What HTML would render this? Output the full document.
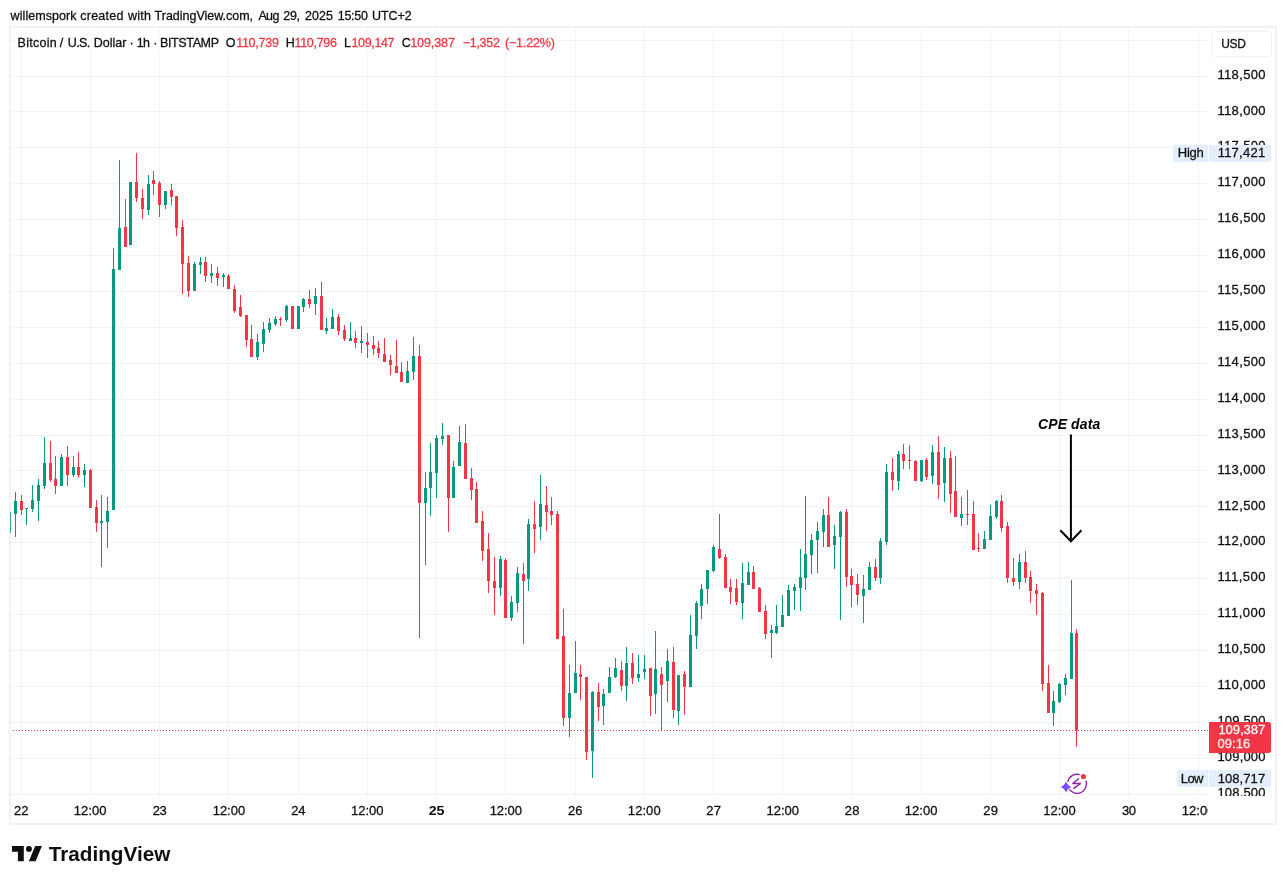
<!DOCTYPE html>
<html lang="en"><head><meta charset="utf-8"><title>BTCUSD chart</title>
<style>
html,body{margin:0;padding:0;background:#fff;}
body{width:1286px;height:884px;overflow:hidden;}
svg{display:block;}
text{font-family:"Liberation Sans",sans-serif;fill:#0f0f0f;white-space:pre;}
.ce{shape-rendering:crispEdges;}
</style></head><body>
<svg width="1286" height="884" viewBox="0 0 1286 884">
<rect x="0" y="0" width="1286" height="884" fill="#fff"/>
<g class="ce" fill="#2a2e39" fill-opacity="0.06">
<rect x="21" y="28" width="1" height="768"/>
<rect x="90" y="28" width="1" height="768"/>
<rect x="159" y="28" width="1" height="768"/>
<rect x="228" y="28" width="1" height="768"/>
<rect x="298" y="28" width="1" height="768"/>
<rect x="367" y="28" width="1" height="768"/>
<rect x="436" y="28" width="1" height="768"/>
<rect x="505" y="28" width="1" height="768"/>
<rect x="575" y="28" width="1" height="768"/>
<rect x="644" y="28" width="1" height="768"/>
<rect x="713" y="28" width="1" height="768"/>
<rect x="782" y="28" width="1" height="768"/>
<rect x="851" y="28" width="1" height="768"/>
<rect x="921" y="28" width="1" height="768"/>
<rect x="990" y="28" width="1" height="768"/>
<rect x="1059" y="28" width="1" height="768"/>
<rect x="1128" y="28" width="1" height="768"/>
<rect x="1198" y="28" width="1" height="768"/>
<rect x="11" y="40" width="1197" height="1"/>
<rect x="11" y="76" width="1197" height="1"/>
<rect x="11" y="111" width="1197" height="1"/>
<rect x="11" y="147" width="1197" height="1"/>
<rect x="11" y="183" width="1197" height="1"/>
<rect x="11" y="219" width="1197" height="1"/>
<rect x="11" y="255" width="1197" height="1"/>
<rect x="11" y="291" width="1197" height="1"/>
<rect x="11" y="327" width="1197" height="1"/>
<rect x="11" y="363" width="1197" height="1"/>
<rect x="11" y="399" width="1197" height="1"/>
<rect x="11" y="435" width="1197" height="1"/>
<rect x="11" y="470" width="1197" height="1"/>
<rect x="11" y="506" width="1197" height="1"/>
<rect x="11" y="542" width="1197" height="1"/>
<rect x="11" y="578" width="1197" height="1"/>
<rect x="11" y="614" width="1197" height="1"/>
<rect x="11" y="650" width="1197" height="1"/>
<rect x="11" y="686" width="1197" height="1"/>
<rect x="11" y="722" width="1197" height="1"/>
<rect x="11" y="758" width="1197" height="1"/>
<rect x="11" y="794" width="1197" height="1"/>
</g>
<rect x="16" y="33" width="543" height="19" fill="#fff" opacity="0.55"/>
<g class="ce">
<rect x="15" y="492" width="1" height="45" fill="#089981"/>
<rect x="14" y="501" width="3" height="13" fill="#089981"/>
<rect x="21" y="495" width="1" height="20" fill="#f23645"/>
<rect x="20" y="501" width="3" height="9" fill="#f23645"/>
<rect x="26" y="508" width="1" height="17" fill="#089981"/>
<rect x="25" y="508" width="3" height="1" fill="#089981"/>
<rect x="32" y="485" width="1" height="27" fill="#089981"/>
<rect x="31" y="500" width="3" height="9" fill="#089981"/>
<rect x="38" y="479" width="1" height="42" fill="#089981"/>
<rect x="37" y="485" width="3" height="16" fill="#089981"/>
<rect x="44" y="437" width="1" height="52" fill="#089981"/>
<rect x="43" y="463" width="3" height="23" fill="#089981"/>
<rect x="50" y="441" width="1" height="41" fill="#f23645"/>
<rect x="49" y="463" width="3" height="17" fill="#f23645"/>
<rect x="55" y="456" width="1" height="38" fill="#f23645"/>
<rect x="54" y="479" width="3" height="7" fill="#f23645"/>
<rect x="61" y="454" width="1" height="32" fill="#089981"/>
<rect x="60" y="457" width="3" height="29" fill="#089981"/>
<rect x="67" y="446" width="1" height="40" fill="#f23645"/>
<rect x="66" y="457" width="3" height="18" fill="#f23645"/>
<rect x="73" y="456" width="1" height="21" fill="#089981"/>
<rect x="72" y="467" width="3" height="8" fill="#089981"/>
<rect x="78" y="452" width="1" height="26" fill="#f23645"/>
<rect x="77" y="467" width="3" height="8" fill="#f23645"/>
<rect x="84" y="464" width="1" height="23" fill="#089981"/>
<rect x="83" y="470" width="3" height="5" fill="#089981"/>
<rect x="90" y="469" width="1" height="39" fill="#f23645"/>
<rect x="89" y="470" width="3" height="38" fill="#f23645"/>
<rect x="96" y="500" width="1" height="32" fill="#f23645"/>
<rect x="95" y="507" width="3" height="16" fill="#f23645"/>
<rect x="101" y="495" width="1" height="72" fill="#089981"/>
<rect x="100" y="521" width="3" height="2" fill="#089981"/>
<rect x="107" y="497" width="1" height="51" fill="#089981"/>
<rect x="106" y="511" width="3" height="11" fill="#089981"/>
<rect x="113" y="248" width="1" height="262" fill="#089981"/>
<rect x="112" y="269" width="3" height="241" fill="#089981"/>
<rect x="119" y="160" width="1" height="110" fill="#089981"/>
<rect x="118" y="228" width="3" height="42" fill="#089981"/>
<rect x="125" y="199" width="1" height="48" fill="#f23645"/>
<rect x="124" y="227" width="3" height="20" fill="#f23645"/>
<rect x="130" y="182" width="1" height="63" fill="#089981"/>
<rect x="129" y="182" width="3" height="63" fill="#089981"/>
<rect x="136" y="153" width="1" height="49" fill="#f23645"/>
<rect x="135" y="182" width="3" height="16" fill="#f23645"/>
<rect x="142" y="189" width="1" height="30" fill="#f23645"/>
<rect x="141" y="198" width="3" height="11" fill="#f23645"/>
<rect x="148" y="175" width="1" height="40" fill="#089981"/>
<rect x="147" y="184" width="3" height="26" fill="#089981"/>
<rect x="153" y="171" width="1" height="24" fill="#f23645"/>
<rect x="152" y="180" width="3" height="4" fill="#f23645"/>
<rect x="159" y="181" width="1" height="36" fill="#f23645"/>
<rect x="158" y="183" width="3" height="22" fill="#f23645"/>
<rect x="165" y="191" width="1" height="18" fill="#089981"/>
<rect x="164" y="191" width="3" height="14" fill="#089981"/>
<rect x="171" y="184" width="1" height="21" fill="#f23645"/>
<rect x="170" y="190" width="3" height="7" fill="#f23645"/>
<rect x="176" y="196" width="1" height="40" fill="#f23645"/>
<rect x="175" y="196" width="3" height="32" fill="#f23645"/>
<rect x="182" y="220" width="1" height="74" fill="#f23645"/>
<rect x="181" y="227" width="3" height="37" fill="#f23645"/>
<rect x="188" y="256" width="1" height="41" fill="#f23645"/>
<rect x="187" y="263" width="3" height="28" fill="#f23645"/>
<rect x="194" y="262" width="1" height="29" fill="#089981"/>
<rect x="193" y="264" width="3" height="27" fill="#089981"/>
<rect x="200" y="257" width="1" height="17" fill="#089981"/>
<rect x="199" y="262" width="3" height="3" fill="#089981"/>
<rect x="205" y="257" width="1" height="25" fill="#f23645"/>
<rect x="204" y="262" width="3" height="14" fill="#f23645"/>
<rect x="211" y="264" width="1" height="19" fill="#089981"/>
<rect x="210" y="273" width="3" height="3" fill="#089981"/>
<rect x="217" y="267" width="1" height="19" fill="#f23645"/>
<rect x="216" y="273" width="3" height="5" fill="#f23645"/>
<rect x="223" y="273" width="1" height="14" fill="#089981"/>
<rect x="222" y="275" width="3" height="2" fill="#089981"/>
<rect x="228" y="274" width="1" height="15" fill="#f23645"/>
<rect x="227" y="276" width="3" height="13" fill="#f23645"/>
<rect x="234" y="285" width="1" height="28" fill="#f23645"/>
<rect x="233" y="289" width="3" height="22" fill="#f23645"/>
<rect x="240" y="295" width="1" height="22" fill="#f23645"/>
<rect x="239" y="307" width="3" height="9" fill="#f23645"/>
<rect x="246" y="315" width="1" height="32" fill="#f23645"/>
<rect x="245" y="315" width="3" height="25" fill="#f23645"/>
<rect x="251" y="325" width="1" height="32" fill="#f23645"/>
<rect x="250" y="339" width="3" height="18" fill="#f23645"/>
<rect x="257" y="334" width="1" height="26" fill="#089981"/>
<rect x="256" y="342" width="3" height="15" fill="#089981"/>
<rect x="263" y="322" width="1" height="30" fill="#089981"/>
<rect x="262" y="329" width="3" height="15" fill="#089981"/>
<rect x="269" y="318" width="1" height="15" fill="#089981"/>
<rect x="268" y="323" width="3" height="7" fill="#089981"/>
<rect x="275" y="316" width="1" height="10" fill="#089981"/>
<rect x="274" y="319" width="3" height="5" fill="#089981"/>
<rect x="280" y="317" width="1" height="9" fill="#f23645"/>
<rect x="279" y="319" width="3" height="1" fill="#f23645"/>
<rect x="286" y="305" width="1" height="17" fill="#089981"/>
<rect x="285" y="306" width="3" height="14" fill="#089981"/>
<rect x="292" y="306" width="1" height="23" fill="#f23645"/>
<rect x="291" y="306" width="3" height="23" fill="#f23645"/>
<rect x="298" y="306" width="1" height="23" fill="#089981"/>
<rect x="297" y="306" width="3" height="23" fill="#089981"/>
<rect x="303" y="298" width="1" height="14" fill="#089981"/>
<rect x="302" y="299" width="3" height="8" fill="#089981"/>
<rect x="309" y="290" width="1" height="18" fill="#f23645"/>
<rect x="308" y="299" width="3" height="5" fill="#f23645"/>
<rect x="315" y="288" width="1" height="27" fill="#089981"/>
<rect x="314" y="296" width="3" height="8" fill="#089981"/>
<rect x="321" y="282" width="1" height="48" fill="#f23645"/>
<rect x="320" y="296" width="3" height="34" fill="#f23645"/>
<rect x="326" y="318" width="1" height="16" fill="#089981"/>
<rect x="325" y="328" width="3" height="3" fill="#089981"/>
<rect x="332" y="309" width="1" height="20" fill="#089981"/>
<rect x="331" y="317" width="3" height="12" fill="#089981"/>
<rect x="338" y="314" width="1" height="21" fill="#f23645"/>
<rect x="337" y="317" width="3" height="14" fill="#f23645"/>
<rect x="344" y="325" width="1" height="16" fill="#f23645"/>
<rect x="343" y="330" width="3" height="9" fill="#f23645"/>
<rect x="350" y="322" width="1" height="19" fill="#089981"/>
<rect x="349" y="338" width="3" height="3" fill="#089981"/>
<rect x="355" y="331" width="1" height="17" fill="#f23645"/>
<rect x="354" y="338" width="3" height="5" fill="#f23645"/>
<rect x="361" y="326" width="1" height="27" fill="#089981"/>
<rect x="360" y="341" width="3" height="2" fill="#089981"/>
<rect x="367" y="333" width="1" height="25" fill="#f23645"/>
<rect x="366" y="342" width="3" height="3" fill="#f23645"/>
<rect x="373" y="336" width="1" height="19" fill="#f23645"/>
<rect x="372" y="345" width="3" height="4" fill="#f23645"/>
<rect x="378" y="341" width="1" height="17" fill="#f23645"/>
<rect x="377" y="348" width="3" height="5" fill="#f23645"/>
<rect x="384" y="338" width="1" height="24" fill="#f23645"/>
<rect x="383" y="354" width="3" height="8" fill="#f23645"/>
<rect x="390" y="355" width="1" height="20" fill="#f23645"/>
<rect x="389" y="360" width="3" height="5" fill="#f23645"/>
<rect x="396" y="340" width="1" height="33" fill="#f23645"/>
<rect x="395" y="366" width="3" height="7" fill="#f23645"/>
<rect x="401" y="362" width="1" height="20" fill="#f23645"/>
<rect x="400" y="372" width="3" height="10" fill="#f23645"/>
<rect x="407" y="361" width="1" height="22" fill="#089981"/>
<rect x="406" y="371" width="3" height="12" fill="#089981"/>
<rect x="413" y="337" width="1" height="43" fill="#089981"/>
<rect x="412" y="356" width="3" height="16" fill="#089981"/>
<rect x="419" y="345" width="1" height="293" fill="#f23645"/>
<rect x="418" y="356" width="3" height="147" fill="#f23645"/>
<rect x="425" y="472" width="1" height="93" fill="#089981"/>
<rect x="424" y="488" width="3" height="15" fill="#089981"/>
<rect x="430" y="443" width="1" height="73" fill="#089981"/>
<rect x="429" y="472" width="3" height="16" fill="#089981"/>
<rect x="436" y="435" width="1" height="63" fill="#089981"/>
<rect x="435" y="438" width="3" height="35" fill="#089981"/>
<rect x="442" y="423" width="1" height="22" fill="#089981"/>
<rect x="441" y="436" width="3" height="3" fill="#089981"/>
<rect x="448" y="435" width="1" height="97" fill="#f23645"/>
<rect x="447" y="435" width="3" height="63" fill="#f23645"/>
<rect x="453" y="461" width="1" height="37" fill="#089981"/>
<rect x="452" y="467" width="3" height="31" fill="#089981"/>
<rect x="459" y="426" width="1" height="40" fill="#089981"/>
<rect x="458" y="442" width="3" height="24" fill="#089981"/>
<rect x="465" y="424" width="1" height="55" fill="#f23645"/>
<rect x="464" y="443" width="3" height="36" fill="#f23645"/>
<rect x="471" y="468" width="1" height="32" fill="#f23645"/>
<rect x="470" y="478" width="3" height="12" fill="#f23645"/>
<rect x="476" y="482" width="1" height="41" fill="#f23645"/>
<rect x="475" y="489" width="3" height="34" fill="#f23645"/>
<rect x="482" y="511" width="1" height="50" fill="#f23645"/>
<rect x="481" y="521" width="3" height="30" fill="#f23645"/>
<rect x="488" y="533" width="1" height="60" fill="#f23645"/>
<rect x="487" y="549" width="3" height="32" fill="#f23645"/>
<rect x="494" y="557" width="1" height="58" fill="#f23645"/>
<rect x="493" y="581" width="3" height="7" fill="#f23645"/>
<rect x="500" y="556" width="1" height="40" fill="#089981"/>
<rect x="499" y="559" width="3" height="29" fill="#089981"/>
<rect x="505" y="558" width="1" height="60" fill="#f23645"/>
<rect x="504" y="560" width="3" height="58" fill="#f23645"/>
<rect x="511" y="596" width="1" height="25" fill="#089981"/>
<rect x="510" y="602" width="3" height="16" fill="#089981"/>
<rect x="517" y="567" width="1" height="45" fill="#089981"/>
<rect x="516" y="573" width="3" height="30" fill="#089981"/>
<rect x="523" y="563" width="1" height="81" fill="#f23645"/>
<rect x="522" y="574" width="3" height="7" fill="#f23645"/>
<rect x="528" y="519" width="1" height="72" fill="#089981"/>
<rect x="527" y="524" width="3" height="55" fill="#089981"/>
<rect x="534" y="501" width="1" height="52" fill="#f23645"/>
<rect x="533" y="524" width="3" height="5" fill="#f23645"/>
<rect x="540" y="475" width="1" height="65" fill="#089981"/>
<rect x="539" y="504" width="3" height="23" fill="#089981"/>
<rect x="546" y="486" width="1" height="45" fill="#f23645"/>
<rect x="545" y="505" width="3" height="7" fill="#f23645"/>
<rect x="551" y="497" width="1" height="28" fill="#f23645"/>
<rect x="550" y="511" width="3" height="4" fill="#f23645"/>
<rect x="557" y="511" width="1" height="128" fill="#f23645"/>
<rect x="556" y="514" width="3" height="125" fill="#f23645"/>
<rect x="563" y="609" width="1" height="117" fill="#f23645"/>
<rect x="562" y="636" width="3" height="82" fill="#f23645"/>
<rect x="569" y="665" width="1" height="72" fill="#089981"/>
<rect x="568" y="693" width="3" height="25" fill="#089981"/>
<rect x="575" y="641" width="1" height="52" fill="#089981"/>
<rect x="574" y="673" width="3" height="20" fill="#089981"/>
<rect x="580" y="665" width="1" height="35" fill="#f23645"/>
<rect x="579" y="674" width="3" height="3" fill="#f23645"/>
<rect x="586" y="677" width="1" height="83" fill="#f23645"/>
<rect x="585" y="677" width="3" height="75" fill="#f23645"/>
<rect x="592" y="691" width="1" height="87" fill="#089981"/>
<rect x="591" y="692" width="3" height="59" fill="#089981"/>
<rect x="598" y="683" width="1" height="38" fill="#f23645"/>
<rect x="597" y="692" width="3" height="15" fill="#f23645"/>
<rect x="603" y="689" width="1" height="36" fill="#089981"/>
<rect x="602" y="694" width="3" height="12" fill="#089981"/>
<rect x="609" y="667" width="1" height="26" fill="#089981"/>
<rect x="608" y="677" width="3" height="16" fill="#089981"/>
<rect x="615" y="658" width="1" height="20" fill="#089981"/>
<rect x="614" y="668" width="3" height="9" fill="#089981"/>
<rect x="621" y="661" width="1" height="30" fill="#f23645"/>
<rect x="620" y="670" width="3" height="16" fill="#f23645"/>
<rect x="626" y="647" width="1" height="54" fill="#089981"/>
<rect x="625" y="663" width="3" height="23" fill="#089981"/>
<rect x="632" y="653" width="1" height="31" fill="#f23645"/>
<rect x="631" y="663" width="3" height="15" fill="#f23645"/>
<rect x="638" y="655" width="1" height="27" fill="#089981"/>
<rect x="637" y="674" width="3" height="4" fill="#089981"/>
<rect x="644" y="655" width="1" height="24" fill="#089981"/>
<rect x="643" y="669" width="3" height="3" fill="#089981"/>
<rect x="650" y="668" width="1" height="48" fill="#f23645"/>
<rect x="649" y="668" width="3" height="28" fill="#f23645"/>
<rect x="655" y="631" width="1" height="83" fill="#089981"/>
<rect x="654" y="669" width="3" height="25" fill="#089981"/>
<rect x="661" y="667" width="1" height="64" fill="#f23645"/>
<rect x="660" y="674" width="3" height="11" fill="#f23645"/>
<rect x="667" y="649" width="1" height="53" fill="#089981"/>
<rect x="666" y="661" width="3" height="20" fill="#089981"/>
<rect x="673" y="647" width="1" height="71" fill="#f23645"/>
<rect x="672" y="662" width="3" height="48" fill="#f23645"/>
<rect x="678" y="675" width="1" height="50" fill="#089981"/>
<rect x="677" y="675" width="3" height="36" fill="#089981"/>
<rect x="684" y="671" width="1" height="44" fill="#f23645"/>
<rect x="683" y="674" width="3" height="13" fill="#f23645"/>
<rect x="690" y="615" width="1" height="72" fill="#089981"/>
<rect x="689" y="635" width="3" height="52" fill="#089981"/>
<rect x="696" y="601" width="1" height="48" fill="#089981"/>
<rect x="695" y="603" width="3" height="33" fill="#089981"/>
<rect x="701" y="584" width="1" height="35" fill="#089981"/>
<rect x="700" y="589" width="3" height="17" fill="#089981"/>
<rect x="707" y="570" width="1" height="34" fill="#089981"/>
<rect x="706" y="570" width="3" height="19" fill="#089981"/>
<rect x="713" y="545" width="1" height="27" fill="#089981"/>
<rect x="712" y="547" width="3" height="24" fill="#089981"/>
<rect x="719" y="514" width="1" height="45" fill="#f23645"/>
<rect x="718" y="549" width="3" height="9" fill="#f23645"/>
<rect x="725" y="554" width="1" height="34" fill="#f23645"/>
<rect x="724" y="557" width="3" height="31" fill="#f23645"/>
<rect x="730" y="579" width="1" height="25" fill="#f23645"/>
<rect x="729" y="587" width="3" height="5" fill="#f23645"/>
<rect x="736" y="579" width="1" height="26" fill="#f23645"/>
<rect x="735" y="588" width="3" height="14" fill="#f23645"/>
<rect x="742" y="563" width="1" height="56" fill="#089981"/>
<rect x="741" y="583" width="3" height="20" fill="#089981"/>
<rect x="748" y="562" width="1" height="23" fill="#089981"/>
<rect x="747" y="572" width="3" height="13" fill="#089981"/>
<rect x="753" y="566" width="1" height="23" fill="#f23645"/>
<rect x="752" y="572" width="3" height="17" fill="#f23645"/>
<rect x="759" y="587" width="1" height="25" fill="#f23645"/>
<rect x="758" y="588" width="3" height="24" fill="#f23645"/>
<rect x="765" y="605" width="1" height="34" fill="#f23645"/>
<rect x="764" y="611" width="3" height="23" fill="#f23645"/>
<rect x="771" y="625" width="1" height="33" fill="#089981"/>
<rect x="770" y="630" width="3" height="3" fill="#089981"/>
<rect x="776" y="605" width="1" height="29" fill="#089981"/>
<rect x="775" y="626" width="3" height="7" fill="#089981"/>
<rect x="782" y="595" width="1" height="32" fill="#089981"/>
<rect x="781" y="615" width="3" height="12" fill="#089981"/>
<rect x="788" y="585" width="1" height="31" fill="#089981"/>
<rect x="787" y="590" width="3" height="26" fill="#089981"/>
<rect x="794" y="584" width="1" height="26" fill="#089981"/>
<rect x="793" y="587" width="3" height="4" fill="#089981"/>
<rect x="800" y="549" width="1" height="62" fill="#089981"/>
<rect x="799" y="577" width="3" height="11" fill="#089981"/>
<rect x="805" y="496" width="1" height="94" fill="#089981"/>
<rect x="804" y="554" width="3" height="24" fill="#089981"/>
<rect x="811" y="534" width="1" height="40" fill="#089981"/>
<rect x="810" y="540" width="3" height="15" fill="#089981"/>
<rect x="817" y="522" width="1" height="51" fill="#089981"/>
<rect x="816" y="531" width="3" height="9" fill="#089981"/>
<rect x="823" y="509" width="1" height="38" fill="#089981"/>
<rect x="822" y="515" width="3" height="17" fill="#089981"/>
<rect x="828" y="497" width="1" height="50" fill="#f23645"/>
<rect x="827" y="515" width="3" height="32" fill="#f23645"/>
<rect x="834" y="525" width="1" height="44" fill="#089981"/>
<rect x="833" y="536" width="3" height="9" fill="#089981"/>
<rect x="840" y="511" width="1" height="109" fill="#089981"/>
<rect x="839" y="512" width="3" height="25" fill="#089981"/>
<rect x="846" y="509" width="1" height="78" fill="#f23645"/>
<rect x="845" y="512" width="3" height="65" fill="#f23645"/>
<rect x="851" y="569" width="1" height="38" fill="#f23645"/>
<rect x="850" y="576" width="3" height="9" fill="#f23645"/>
<rect x="857" y="574" width="1" height="31" fill="#f23645"/>
<rect x="856" y="584" width="3" height="11" fill="#f23645"/>
<rect x="863" y="575" width="1" height="48" fill="#089981"/>
<rect x="862" y="589" width="3" height="7" fill="#089981"/>
<rect x="869" y="562" width="1" height="28" fill="#089981"/>
<rect x="868" y="567" width="3" height="23" fill="#089981"/>
<rect x="875" y="559" width="1" height="22" fill="#f23645"/>
<rect x="874" y="567" width="3" height="11" fill="#f23645"/>
<rect x="880" y="538" width="1" height="46" fill="#089981"/>
<rect x="879" y="541" width="3" height="37" fill="#089981"/>
<rect x="886" y="464" width="1" height="81" fill="#089981"/>
<rect x="885" y="472" width="3" height="70" fill="#089981"/>
<rect x="892" y="458" width="1" height="33" fill="#f23645"/>
<rect x="891" y="472" width="3" height="8" fill="#f23645"/>
<rect x="898" y="451" width="1" height="39" fill="#089981"/>
<rect x="897" y="454" width="3" height="27" fill="#089981"/>
<rect x="903" y="444" width="1" height="25" fill="#f23645"/>
<rect x="902" y="454" width="3" height="7" fill="#f23645"/>
<rect x="909" y="445" width="1" height="24" fill="#f23645"/>
<rect x="908" y="460" width="3" height="1" fill="#f23645"/>
<rect x="915" y="460" width="1" height="21" fill="#f23645"/>
<rect x="914" y="461" width="3" height="20" fill="#f23645"/>
<rect x="921" y="460" width="1" height="22" fill="#089981"/>
<rect x="920" y="460" width="3" height="21" fill="#089981"/>
<rect x="926" y="458" width="1" height="22" fill="#f23645"/>
<rect x="925" y="460" width="3" height="17" fill="#f23645"/>
<rect x="932" y="445" width="1" height="39" fill="#089981"/>
<rect x="931" y="452" width="3" height="24" fill="#089981"/>
<rect x="938" y="436" width="1" height="63" fill="#f23645"/>
<rect x="937" y="452" width="3" height="33" fill="#f23645"/>
<rect x="944" y="447" width="1" height="55" fill="#089981"/>
<rect x="943" y="458" width="3" height="25" fill="#089981"/>
<rect x="950" y="451" width="1" height="62" fill="#f23645"/>
<rect x="949" y="458" width="3" height="36" fill="#f23645"/>
<rect x="955" y="456" width="1" height="61" fill="#f23645"/>
<rect x="954" y="491" width="3" height="26" fill="#f23645"/>
<rect x="961" y="497" width="1" height="29" fill="#089981"/>
<rect x="960" y="514" width="3" height="4" fill="#089981"/>
<rect x="967" y="490" width="1" height="35" fill="#f23645"/>
<rect x="966" y="514" width="3" height="1" fill="#f23645"/>
<rect x="973" y="501" width="1" height="49" fill="#f23645"/>
<rect x="972" y="514" width="3" height="36" fill="#f23645"/>
<rect x="978" y="533" width="1" height="19" fill="#f23645"/>
<rect x="977" y="548" width="3" height="1" fill="#f23645"/>
<rect x="984" y="531" width="1" height="18" fill="#089981"/>
<rect x="983" y="539" width="3" height="10" fill="#089981"/>
<rect x="990" y="505" width="1" height="35" fill="#089981"/>
<rect x="989" y="516" width="3" height="24" fill="#089981"/>
<rect x="996" y="500" width="1" height="19" fill="#089981"/>
<rect x="995" y="501" width="3" height="16" fill="#089981"/>
<rect x="1001" y="495" width="1" height="37" fill="#f23645"/>
<rect x="1000" y="501" width="3" height="27" fill="#f23645"/>
<rect x="1007" y="522" width="1" height="61" fill="#f23645"/>
<rect x="1006" y="526" width="3" height="52" fill="#f23645"/>
<rect x="1013" y="558" width="1" height="28" fill="#f23645"/>
<rect x="1012" y="578" width="3" height="4" fill="#f23645"/>
<rect x="1019" y="554" width="1" height="35" fill="#089981"/>
<rect x="1018" y="562" width="3" height="20" fill="#089981"/>
<rect x="1025" y="551" width="1" height="32" fill="#f23645"/>
<rect x="1024" y="562" width="3" height="16" fill="#f23645"/>
<rect x="1030" y="571" width="1" height="32" fill="#f23645"/>
<rect x="1029" y="577" width="3" height="14" fill="#f23645"/>
<rect x="1036" y="584" width="1" height="31" fill="#f23645"/>
<rect x="1035" y="590" width="3" height="4" fill="#f23645"/>
<rect x="1042" y="592" width="1" height="99" fill="#f23645"/>
<rect x="1041" y="593" width="3" height="91" fill="#f23645"/>
<rect x="1048" y="665" width="1" height="48" fill="#f23645"/>
<rect x="1047" y="683" width="3" height="30" fill="#f23645"/>
<rect x="1053" y="691" width="1" height="35" fill="#089981"/>
<rect x="1052" y="701" width="3" height="12" fill="#089981"/>
<rect x="1059" y="683" width="1" height="20" fill="#089981"/>
<rect x="1058" y="684" width="3" height="18" fill="#089981"/>
<rect x="1065" y="674" width="1" height="21" fill="#089981"/>
<rect x="1064" y="678" width="3" height="7" fill="#089981"/>
<rect x="1071" y="580" width="1" height="99" fill="#089981"/>
<rect x="1070" y="633" width="3" height="46" fill="#089981"/>
<rect x="1076" y="629" width="1" height="118" fill="#f23645"/>
<rect x="1075" y="633" width="3" height="97" fill="#f23645"/>
</g>
<g class="ce" fill="#f23645">
<rect x="10" y="730" width="1" height="1"/>
<rect x="13" y="730" width="1" height="1"/>
<rect x="16" y="730" width="1" height="1"/>
<rect x="19" y="730" width="1" height="1"/>
<rect x="22" y="730" width="1" height="1"/>
<rect x="25" y="730" width="1" height="1"/>
<rect x="28" y="730" width="1" height="1"/>
<rect x="31" y="730" width="1" height="1"/>
<rect x="34" y="730" width="1" height="1"/>
<rect x="37" y="730" width="1" height="1"/>
<rect x="40" y="730" width="1" height="1"/>
<rect x="43" y="730" width="1" height="1"/>
<rect x="46" y="730" width="1" height="1"/>
<rect x="49" y="730" width="1" height="1"/>
<rect x="52" y="730" width="1" height="1"/>
<rect x="55" y="730" width="1" height="1"/>
<rect x="58" y="730" width="1" height="1"/>
<rect x="61" y="730" width="1" height="1"/>
<rect x="64" y="730" width="1" height="1"/>
<rect x="67" y="730" width="1" height="1"/>
<rect x="70" y="730" width="1" height="1"/>
<rect x="73" y="730" width="1" height="1"/>
<rect x="76" y="730" width="1" height="1"/>
<rect x="79" y="730" width="1" height="1"/>
<rect x="82" y="730" width="1" height="1"/>
<rect x="85" y="730" width="1" height="1"/>
<rect x="88" y="730" width="1" height="1"/>
<rect x="91" y="730" width="1" height="1"/>
<rect x="94" y="730" width="1" height="1"/>
<rect x="97" y="730" width="1" height="1"/>
<rect x="100" y="730" width="1" height="1"/>
<rect x="103" y="730" width="1" height="1"/>
<rect x="106" y="730" width="1" height="1"/>
<rect x="109" y="730" width="1" height="1"/>
<rect x="112" y="730" width="1" height="1"/>
<rect x="115" y="730" width="1" height="1"/>
<rect x="118" y="730" width="1" height="1"/>
<rect x="121" y="730" width="1" height="1"/>
<rect x="124" y="730" width="1" height="1"/>
<rect x="127" y="730" width="1" height="1"/>
<rect x="130" y="730" width="1" height="1"/>
<rect x="133" y="730" width="1" height="1"/>
<rect x="136" y="730" width="1" height="1"/>
<rect x="139" y="730" width="1" height="1"/>
<rect x="142" y="730" width="1" height="1"/>
<rect x="145" y="730" width="1" height="1"/>
<rect x="148" y="730" width="1" height="1"/>
<rect x="151" y="730" width="1" height="1"/>
<rect x="154" y="730" width="1" height="1"/>
<rect x="157" y="730" width="1" height="1"/>
<rect x="160" y="730" width="1" height="1"/>
<rect x="163" y="730" width="1" height="1"/>
<rect x="166" y="730" width="1" height="1"/>
<rect x="169" y="730" width="1" height="1"/>
<rect x="172" y="730" width="1" height="1"/>
<rect x="175" y="730" width="1" height="1"/>
<rect x="178" y="730" width="1" height="1"/>
<rect x="181" y="730" width="1" height="1"/>
<rect x="184" y="730" width="1" height="1"/>
<rect x="187" y="730" width="1" height="1"/>
<rect x="190" y="730" width="1" height="1"/>
<rect x="193" y="730" width="1" height="1"/>
<rect x="196" y="730" width="1" height="1"/>
<rect x="199" y="730" width="1" height="1"/>
<rect x="202" y="730" width="1" height="1"/>
<rect x="205" y="730" width="1" height="1"/>
<rect x="208" y="730" width="1" height="1"/>
<rect x="211" y="730" width="1" height="1"/>
<rect x="214" y="730" width="1" height="1"/>
<rect x="217" y="730" width="1" height="1"/>
<rect x="220" y="730" width="1" height="1"/>
<rect x="223" y="730" width="1" height="1"/>
<rect x="226" y="730" width="1" height="1"/>
<rect x="229" y="730" width="1" height="1"/>
<rect x="232" y="730" width="1" height="1"/>
<rect x="235" y="730" width="1" height="1"/>
<rect x="238" y="730" width="1" height="1"/>
<rect x="241" y="730" width="1" height="1"/>
<rect x="244" y="730" width="1" height="1"/>
<rect x="247" y="730" width="1" height="1"/>
<rect x="250" y="730" width="1" height="1"/>
<rect x="253" y="730" width="1" height="1"/>
<rect x="256" y="730" width="1" height="1"/>
<rect x="259" y="730" width="1" height="1"/>
<rect x="262" y="730" width="1" height="1"/>
<rect x="265" y="730" width="1" height="1"/>
<rect x="268" y="730" width="1" height="1"/>
<rect x="271" y="730" width="1" height="1"/>
<rect x="274" y="730" width="1" height="1"/>
<rect x="277" y="730" width="1" height="1"/>
<rect x="280" y="730" width="1" height="1"/>
<rect x="283" y="730" width="1" height="1"/>
<rect x="286" y="730" width="1" height="1"/>
<rect x="289" y="730" width="1" height="1"/>
<rect x="292" y="730" width="1" height="1"/>
<rect x="295" y="730" width="1" height="1"/>
<rect x="298" y="730" width="1" height="1"/>
<rect x="301" y="730" width="1" height="1"/>
<rect x="304" y="730" width="1" height="1"/>
<rect x="307" y="730" width="1" height="1"/>
<rect x="310" y="730" width="1" height="1"/>
<rect x="313" y="730" width="1" height="1"/>
<rect x="316" y="730" width="1" height="1"/>
<rect x="319" y="730" width="1" height="1"/>
<rect x="322" y="730" width="1" height="1"/>
<rect x="325" y="730" width="1" height="1"/>
<rect x="328" y="730" width="1" height="1"/>
<rect x="331" y="730" width="1" height="1"/>
<rect x="334" y="730" width="1" height="1"/>
<rect x="337" y="730" width="1" height="1"/>
<rect x="340" y="730" width="1" height="1"/>
<rect x="343" y="730" width="1" height="1"/>
<rect x="346" y="730" width="1" height="1"/>
<rect x="349" y="730" width="1" height="1"/>
<rect x="352" y="730" width="1" height="1"/>
<rect x="355" y="730" width="1" height="1"/>
<rect x="358" y="730" width="1" height="1"/>
<rect x="361" y="730" width="1" height="1"/>
<rect x="364" y="730" width="1" height="1"/>
<rect x="367" y="730" width="1" height="1"/>
<rect x="370" y="730" width="1" height="1"/>
<rect x="373" y="730" width="1" height="1"/>
<rect x="376" y="730" width="1" height="1"/>
<rect x="379" y="730" width="1" height="1"/>
<rect x="382" y="730" width="1" height="1"/>
<rect x="385" y="730" width="1" height="1"/>
<rect x="388" y="730" width="1" height="1"/>
<rect x="391" y="730" width="1" height="1"/>
<rect x="394" y="730" width="1" height="1"/>
<rect x="397" y="730" width="1" height="1"/>
<rect x="400" y="730" width="1" height="1"/>
<rect x="403" y="730" width="1" height="1"/>
<rect x="406" y="730" width="1" height="1"/>
<rect x="409" y="730" width="1" height="1"/>
<rect x="412" y="730" width="1" height="1"/>
<rect x="415" y="730" width="1" height="1"/>
<rect x="418" y="730" width="1" height="1"/>
<rect x="421" y="730" width="1" height="1"/>
<rect x="424" y="730" width="1" height="1"/>
<rect x="427" y="730" width="1" height="1"/>
<rect x="430" y="730" width="1" height="1"/>
<rect x="433" y="730" width="1" height="1"/>
<rect x="436" y="730" width="1" height="1"/>
<rect x="439" y="730" width="1" height="1"/>
<rect x="442" y="730" width="1" height="1"/>
<rect x="445" y="730" width="1" height="1"/>
<rect x="448" y="730" width="1" height="1"/>
<rect x="451" y="730" width="1" height="1"/>
<rect x="454" y="730" width="1" height="1"/>
<rect x="457" y="730" width="1" height="1"/>
<rect x="460" y="730" width="1" height="1"/>
<rect x="463" y="730" width="1" height="1"/>
<rect x="466" y="730" width="1" height="1"/>
<rect x="469" y="730" width="1" height="1"/>
<rect x="472" y="730" width="1" height="1"/>
<rect x="475" y="730" width="1" height="1"/>
<rect x="478" y="730" width="1" height="1"/>
<rect x="481" y="730" width="1" height="1"/>
<rect x="484" y="730" width="1" height="1"/>
<rect x="487" y="730" width="1" height="1"/>
<rect x="490" y="730" width="1" height="1"/>
<rect x="493" y="730" width="1" height="1"/>
<rect x="496" y="730" width="1" height="1"/>
<rect x="499" y="730" width="1" height="1"/>
<rect x="502" y="730" width="1" height="1"/>
<rect x="505" y="730" width="1" height="1"/>
<rect x="508" y="730" width="1" height="1"/>
<rect x="511" y="730" width="1" height="1"/>
<rect x="514" y="730" width="1" height="1"/>
<rect x="517" y="730" width="1" height="1"/>
<rect x="520" y="730" width="1" height="1"/>
<rect x="523" y="730" width="1" height="1"/>
<rect x="526" y="730" width="1" height="1"/>
<rect x="529" y="730" width="1" height="1"/>
<rect x="532" y="730" width="1" height="1"/>
<rect x="535" y="730" width="1" height="1"/>
<rect x="538" y="730" width="1" height="1"/>
<rect x="541" y="730" width="1" height="1"/>
<rect x="544" y="730" width="1" height="1"/>
<rect x="547" y="730" width="1" height="1"/>
<rect x="550" y="730" width="1" height="1"/>
<rect x="553" y="730" width="1" height="1"/>
<rect x="556" y="730" width="1" height="1"/>
<rect x="559" y="730" width="1" height="1"/>
<rect x="562" y="730" width="1" height="1"/>
<rect x="565" y="730" width="1" height="1"/>
<rect x="568" y="730" width="1" height="1"/>
<rect x="571" y="730" width="1" height="1"/>
<rect x="574" y="730" width="1" height="1"/>
<rect x="577" y="730" width="1" height="1"/>
<rect x="580" y="730" width="1" height="1"/>
<rect x="583" y="730" width="1" height="1"/>
<rect x="586" y="730" width="1" height="1"/>
<rect x="589" y="730" width="1" height="1"/>
<rect x="592" y="730" width="1" height="1"/>
<rect x="595" y="730" width="1" height="1"/>
<rect x="598" y="730" width="1" height="1"/>
<rect x="601" y="730" width="1" height="1"/>
<rect x="604" y="730" width="1" height="1"/>
<rect x="607" y="730" width="1" height="1"/>
<rect x="610" y="730" width="1" height="1"/>
<rect x="613" y="730" width="1" height="1"/>
<rect x="616" y="730" width="1" height="1"/>
<rect x="619" y="730" width="1" height="1"/>
<rect x="622" y="730" width="1" height="1"/>
<rect x="625" y="730" width="1" height="1"/>
<rect x="628" y="730" width="1" height="1"/>
<rect x="631" y="730" width="1" height="1"/>
<rect x="634" y="730" width="1" height="1"/>
<rect x="637" y="730" width="1" height="1"/>
<rect x="640" y="730" width="1" height="1"/>
<rect x="643" y="730" width="1" height="1"/>
<rect x="646" y="730" width="1" height="1"/>
<rect x="649" y="730" width="1" height="1"/>
<rect x="652" y="730" width="1" height="1"/>
<rect x="655" y="730" width="1" height="1"/>
<rect x="658" y="730" width="1" height="1"/>
<rect x="661" y="730" width="1" height="1"/>
<rect x="664" y="730" width="1" height="1"/>
<rect x="667" y="730" width="1" height="1"/>
<rect x="670" y="730" width="1" height="1"/>
<rect x="673" y="730" width="1" height="1"/>
<rect x="676" y="730" width="1" height="1"/>
<rect x="679" y="730" width="1" height="1"/>
<rect x="682" y="730" width="1" height="1"/>
<rect x="685" y="730" width="1" height="1"/>
<rect x="688" y="730" width="1" height="1"/>
<rect x="691" y="730" width="1" height="1"/>
<rect x="694" y="730" width="1" height="1"/>
<rect x="697" y="730" width="1" height="1"/>
<rect x="700" y="730" width="1" height="1"/>
<rect x="703" y="730" width="1" height="1"/>
<rect x="706" y="730" width="1" height="1"/>
<rect x="709" y="730" width="1" height="1"/>
<rect x="712" y="730" width="1" height="1"/>
<rect x="715" y="730" width="1" height="1"/>
<rect x="718" y="730" width="1" height="1"/>
<rect x="721" y="730" width="1" height="1"/>
<rect x="724" y="730" width="1" height="1"/>
<rect x="727" y="730" width="1" height="1"/>
<rect x="730" y="730" width="1" height="1"/>
<rect x="733" y="730" width="1" height="1"/>
<rect x="736" y="730" width="1" height="1"/>
<rect x="739" y="730" width="1" height="1"/>
<rect x="742" y="730" width="1" height="1"/>
<rect x="745" y="730" width="1" height="1"/>
<rect x="748" y="730" width="1" height="1"/>
<rect x="751" y="730" width="1" height="1"/>
<rect x="754" y="730" width="1" height="1"/>
<rect x="757" y="730" width="1" height="1"/>
<rect x="760" y="730" width="1" height="1"/>
<rect x="763" y="730" width="1" height="1"/>
<rect x="766" y="730" width="1" height="1"/>
<rect x="769" y="730" width="1" height="1"/>
<rect x="772" y="730" width="1" height="1"/>
<rect x="775" y="730" width="1" height="1"/>
<rect x="778" y="730" width="1" height="1"/>
<rect x="781" y="730" width="1" height="1"/>
<rect x="784" y="730" width="1" height="1"/>
<rect x="787" y="730" width="1" height="1"/>
<rect x="790" y="730" width="1" height="1"/>
<rect x="793" y="730" width="1" height="1"/>
<rect x="796" y="730" width="1" height="1"/>
<rect x="799" y="730" width="1" height="1"/>
<rect x="802" y="730" width="1" height="1"/>
<rect x="805" y="730" width="1" height="1"/>
<rect x="808" y="730" width="1" height="1"/>
<rect x="811" y="730" width="1" height="1"/>
<rect x="814" y="730" width="1" height="1"/>
<rect x="817" y="730" width="1" height="1"/>
<rect x="820" y="730" width="1" height="1"/>
<rect x="823" y="730" width="1" height="1"/>
<rect x="826" y="730" width="1" height="1"/>
<rect x="829" y="730" width="1" height="1"/>
<rect x="832" y="730" width="1" height="1"/>
<rect x="835" y="730" width="1" height="1"/>
<rect x="838" y="730" width="1" height="1"/>
<rect x="841" y="730" width="1" height="1"/>
<rect x="844" y="730" width="1" height="1"/>
<rect x="847" y="730" width="1" height="1"/>
<rect x="850" y="730" width="1" height="1"/>
<rect x="853" y="730" width="1" height="1"/>
<rect x="856" y="730" width="1" height="1"/>
<rect x="859" y="730" width="1" height="1"/>
<rect x="862" y="730" width="1" height="1"/>
<rect x="865" y="730" width="1" height="1"/>
<rect x="868" y="730" width="1" height="1"/>
<rect x="871" y="730" width="1" height="1"/>
<rect x="874" y="730" width="1" height="1"/>
<rect x="877" y="730" width="1" height="1"/>
<rect x="880" y="730" width="1" height="1"/>
<rect x="883" y="730" width="1" height="1"/>
<rect x="886" y="730" width="1" height="1"/>
<rect x="889" y="730" width="1" height="1"/>
<rect x="892" y="730" width="1" height="1"/>
<rect x="895" y="730" width="1" height="1"/>
<rect x="898" y="730" width="1" height="1"/>
<rect x="901" y="730" width="1" height="1"/>
<rect x="904" y="730" width="1" height="1"/>
<rect x="907" y="730" width="1" height="1"/>
<rect x="910" y="730" width="1" height="1"/>
<rect x="913" y="730" width="1" height="1"/>
<rect x="916" y="730" width="1" height="1"/>
<rect x="919" y="730" width="1" height="1"/>
<rect x="922" y="730" width="1" height="1"/>
<rect x="925" y="730" width="1" height="1"/>
<rect x="928" y="730" width="1" height="1"/>
<rect x="931" y="730" width="1" height="1"/>
<rect x="934" y="730" width="1" height="1"/>
<rect x="937" y="730" width="1" height="1"/>
<rect x="940" y="730" width="1" height="1"/>
<rect x="943" y="730" width="1" height="1"/>
<rect x="946" y="730" width="1" height="1"/>
<rect x="949" y="730" width="1" height="1"/>
<rect x="952" y="730" width="1" height="1"/>
<rect x="955" y="730" width="1" height="1"/>
<rect x="958" y="730" width="1" height="1"/>
<rect x="961" y="730" width="1" height="1"/>
<rect x="964" y="730" width="1" height="1"/>
<rect x="967" y="730" width="1" height="1"/>
<rect x="970" y="730" width="1" height="1"/>
<rect x="973" y="730" width="1" height="1"/>
<rect x="976" y="730" width="1" height="1"/>
<rect x="979" y="730" width="1" height="1"/>
<rect x="982" y="730" width="1" height="1"/>
<rect x="985" y="730" width="1" height="1"/>
<rect x="988" y="730" width="1" height="1"/>
<rect x="991" y="730" width="1" height="1"/>
<rect x="994" y="730" width="1" height="1"/>
<rect x="997" y="730" width="1" height="1"/>
<rect x="1000" y="730" width="1" height="1"/>
<rect x="1003" y="730" width="1" height="1"/>
<rect x="1006" y="730" width="1" height="1"/>
<rect x="1009" y="730" width="1" height="1"/>
<rect x="1012" y="730" width="1" height="1"/>
<rect x="1015" y="730" width="1" height="1"/>
<rect x="1018" y="730" width="1" height="1"/>
<rect x="1021" y="730" width="1" height="1"/>
<rect x="1024" y="730" width="1" height="1"/>
<rect x="1027" y="730" width="1" height="1"/>
<rect x="1030" y="730" width="1" height="1"/>
<rect x="1033" y="730" width="1" height="1"/>
<rect x="1036" y="730" width="1" height="1"/>
<rect x="1039" y="730" width="1" height="1"/>
<rect x="1042" y="730" width="1" height="1"/>
<rect x="1045" y="730" width="1" height="1"/>
<rect x="1048" y="730" width="1" height="1"/>
<rect x="1051" y="730" width="1" height="1"/>
<rect x="1054" y="730" width="1" height="1"/>
<rect x="1057" y="730" width="1" height="1"/>
<rect x="1060" y="730" width="1" height="1"/>
<rect x="1063" y="730" width="1" height="1"/>
<rect x="1066" y="730" width="1" height="1"/>
<rect x="1069" y="730" width="1" height="1"/>
<rect x="1072" y="730" width="1" height="1"/>
<rect x="1075" y="730" width="1" height="1"/>
<rect x="1078" y="730" width="1" height="1"/>
<rect x="1081" y="730" width="1" height="1"/>
<rect x="1084" y="730" width="1" height="1"/>
<rect x="1087" y="730" width="1" height="1"/>
<rect x="1090" y="730" width="1" height="1"/>
<rect x="1093" y="730" width="1" height="1"/>
<rect x="1096" y="730" width="1" height="1"/>
<rect x="1099" y="730" width="1" height="1"/>
<rect x="1102" y="730" width="1" height="1"/>
<rect x="1105" y="730" width="1" height="1"/>
<rect x="1108" y="730" width="1" height="1"/>
<rect x="1111" y="730" width="1" height="1"/>
<rect x="1114" y="730" width="1" height="1"/>
<rect x="1117" y="730" width="1" height="1"/>
<rect x="1120" y="730" width="1" height="1"/>
<rect x="1123" y="730" width="1" height="1"/>
<rect x="1126" y="730" width="1" height="1"/>
<rect x="1129" y="730" width="1" height="1"/>
<rect x="1132" y="730" width="1" height="1"/>
<rect x="1135" y="730" width="1" height="1"/>
<rect x="1138" y="730" width="1" height="1"/>
<rect x="1141" y="730" width="1" height="1"/>
<rect x="1144" y="730" width="1" height="1"/>
<rect x="1147" y="730" width="1" height="1"/>
<rect x="1150" y="730" width="1" height="1"/>
<rect x="1153" y="730" width="1" height="1"/>
<rect x="1156" y="730" width="1" height="1"/>
<rect x="1159" y="730" width="1" height="1"/>
<rect x="1162" y="730" width="1" height="1"/>
<rect x="1165" y="730" width="1" height="1"/>
<rect x="1168" y="730" width="1" height="1"/>
<rect x="1171" y="730" width="1" height="1"/>
<rect x="1174" y="730" width="1" height="1"/>
<rect x="1177" y="730" width="1" height="1"/>
<rect x="1180" y="730" width="1" height="1"/>
<rect x="1183" y="730" width="1" height="1"/>
<rect x="1186" y="730" width="1" height="1"/>
<rect x="1189" y="730" width="1" height="1"/>
<rect x="1192" y="730" width="1" height="1"/>
<rect x="1195" y="730" width="1" height="1"/>
<rect x="1198" y="730" width="1" height="1"/>
<rect x="1201" y="730" width="1" height="1"/>
<rect x="1204" y="730" width="1" height="1"/>
<rect x="1207" y="730" width="1" height="1"/>
</g>
<g stroke="#000" stroke-width="2" fill="none" stroke-linecap="butt" stroke-linejoin="miter">
<path d="M1070.9 434.5 L1070.9 541"/>
<path d="M1060.3 530.3 L1070.9 541.2 L1081.5 530.3"/>
</g>
<text x="1037.98" y="428.8" font-size="14" font-weight="bold" font-style="italic" style="letter-spacing:0.114px;fill:#000;">CPE data</text>
<text x="1217.42" y="79" font-size="13" style="letter-spacing:0.347px;stroke:#0f0f0f;stroke-width:0.28px;">118,500</text>
<text x="1217.42" y="115" font-size="13" style="letter-spacing:0.347px;stroke:#0f0f0f;stroke-width:0.28px;">118,000</text>
<text x="1217.42" y="150" font-size="13" style="letter-spacing:0.347px;stroke:#0f0f0f;stroke-width:0.28px;">117,500</text>
<text x="1217.42" y="186" font-size="13" style="letter-spacing:0.347px;stroke:#0f0f0f;stroke-width:0.28px;">117,000</text>
<text x="1217.42" y="222" font-size="13" style="letter-spacing:0.347px;stroke:#0f0f0f;stroke-width:0.28px;">116,500</text>
<text x="1217.42" y="258" font-size="13" style="letter-spacing:0.347px;stroke:#0f0f0f;stroke-width:0.28px;">116,000</text>
<text x="1217.42" y="294" font-size="13" style="letter-spacing:0.347px;stroke:#0f0f0f;stroke-width:0.28px;">115,500</text>
<text x="1217.42" y="330" font-size="13" style="letter-spacing:0.347px;stroke:#0f0f0f;stroke-width:0.28px;">115,000</text>
<text x="1217.42" y="366" font-size="13" style="letter-spacing:0.347px;stroke:#0f0f0f;stroke-width:0.28px;">114,500</text>
<text x="1217.42" y="402" font-size="13" style="letter-spacing:0.347px;stroke:#0f0f0f;stroke-width:0.28px;">114,000</text>
<text x="1217.42" y="438" font-size="13" style="letter-spacing:0.347px;stroke:#0f0f0f;stroke-width:0.28px;">113,500</text>
<text x="1217.42" y="474" font-size="13" style="letter-spacing:0.347px;stroke:#0f0f0f;stroke-width:0.28px;">113,000</text>
<text x="1217.42" y="510" font-size="13" style="letter-spacing:0.347px;stroke:#0f0f0f;stroke-width:0.28px;">112,500</text>
<text x="1217.42" y="545" font-size="13" style="letter-spacing:0.347px;stroke:#0f0f0f;stroke-width:0.28px;">112,000</text>
<text x="1217.42" y="581" font-size="13" style="letter-spacing:0.507px;stroke:#0f0f0f;stroke-width:0.28px;">111,500</text>
<text x="1217.42" y="617" font-size="13" style="letter-spacing:0.507px;stroke:#0f0f0f;stroke-width:0.28px;">111,000</text>
<text x="1217.42" y="653" font-size="13" style="letter-spacing:0.347px;stroke:#0f0f0f;stroke-width:0.28px;">110,500</text>
<text x="1217.42" y="689" font-size="13" style="letter-spacing:0.347px;stroke:#0f0f0f;stroke-width:0.28px;">110,000</text>
<text x="1217.42" y="725" font-size="13" style="letter-spacing:0.186px;stroke:#0f0f0f;stroke-width:0.28px;">109,500</text>
<text x="1217.42" y="761" font-size="13" style="letter-spacing:0.186px;stroke:#0f0f0f;stroke-width:0.28px;">109,000</text>
<text x="1217.42" y="797" font-size="13" style="letter-spacing:0.186px;stroke:#0f0f0f;stroke-width:0.28px;">108,500</text>
<rect x="1209" y="796" width="66" height="27" fill="#fff"/>
<rect x="1212.1" y="31.3" width="59.4" height="25.5" rx="4.5" ry="4.5" fill="#fff" stroke="#efeff0" stroke-width="1.1"/>
<text x="1221.15" y="48" font-size="12" style="letter-spacing:-0.301px;stroke:#0f0f0f;stroke-width:0.28px;">USD</text>
<path d="M1175.0 145.0 H1208 V162.0 H1175.0 a2 2 0 0 1 -2 -2 V147.0 a2 2 0 0 1 2 -2 Z" fill="#e3effd"/>
<path d="M1209 145.0 H1269 a2 2 0 0 1 2 2 V160.0 a2 2 0 0 1 -2 2 H1209 Z" fill="#e3effd"/>
<text x="1177.69" y="157" font-size="13" style="letter-spacing:-0.193px;stroke:#0f0f0f;stroke-width:0.28px;">High</text>
<text x="1217.65" y="157" font-size="13" style="letter-spacing:0.243px;stroke:#0f0f0f;stroke-width:0.28px;">117,421</text>
<path d="M1179.0 770.0 H1208 V787.0 H1179.0 a2 2 0 0 1 -2 -2 V772.0 a2 2 0 0 1 2 -2 Z" fill="#e3effd"/>
<path d="M1209 770.0 H1269 a2 2 0 0 1 2 2 V785.0 a2 2 0 0 1 -2 2 H1209 Z" fill="#e3effd"/>
<text x="1180.80" y="782.5" font-size="13" style="letter-spacing:-0.620px;stroke:#0f0f0f;stroke-width:0.28px;">Low</text>
<text x="1217.65" y="782.5" font-size="13" style="letter-spacing:0.086px;stroke:#0f0f0f;stroke-width:0.28px;">108,717</text>
<path d="M1209 722 H1268.5 a2.5 2.5 0 0 1 2.5 2.5 V750.5 a2.5 2.5 0 0 1 -2.5 2.5 H1209 Z" fill="#f23645"/>
<text x="1218.42" y="734" font-size="13" style="letter-spacing:-0.044px;fill:#fff;stroke:#fff;stroke-width:0.28px;">109,387</text>
<text x="1217.56" y="748" font-size="13" style="letter-spacing:0.016px;fill:#fff;stroke:#fff;stroke-width:0.28px;fill-opacity:.85;">09:16</text>
<rect x="11" y="796" width="1197" height="27" fill="#fff"/>
<clipPath id="tc"><rect x="11" y="796" width="1197" height="27"/></clipPath>
<g clip-path="url(#tc)">
<text x="14.03" y="815" font-size="13" style="letter-spacing:-0.092px;stroke:#0f0f0f;stroke-width:0.28px;">22</text>
<text x="73.85" y="815" font-size="13" style="letter-spacing:0.048px;stroke:#0f0f0f;stroke-width:0.28px;">12:00</text>
<text x="152.74" y="815" font-size="13" style="letter-spacing:-0.433px;stroke:#0f0f0f;stroke-width:0.28px;">23</text>
<text x="212.68" y="815" font-size="13" style="letter-spacing:-0.018px;stroke:#0f0f0f;stroke-width:0.28px;">12:00</text>
<text x="291.21" y="815" font-size="13" style="letter-spacing:-0.188px;stroke:#0f0f0f;stroke-width:0.28px;">24</text>
<text x="350.91" y="815" font-size="13" style="letter-spacing:0.010px;stroke:#0f0f0f;stroke-width:0.28px;">12:00</text>
<text transform="translate(428.63 815) scale(1.1 1)" font-size="13" font-weight="bold">25</text>
<text x="489.63" y="815" font-size="13" style="letter-spacing:-0.029px;stroke:#0f0f0f;stroke-width:0.28px;">12:00</text>
<text x="567.88" y="815" font-size="13" style="letter-spacing:0.265px;stroke:#0f0f0f;stroke-width:0.28px;">26</text>
<text x="627.86" y="815" font-size="13" style="letter-spacing:0.056px;stroke:#0f0f0f;stroke-width:0.28px;">12:00</text>
<text x="706.28" y="815" font-size="13" style="letter-spacing:0.270px;stroke:#0f0f0f;stroke-width:0.28px;">27</text>
<text x="766.46" y="815" font-size="13" style="letter-spacing:-0.012px;stroke:#0f0f0f;stroke-width:0.28px;">12:00</text>
<text x="844.87" y="815" font-size="13" style="letter-spacing:0.114px;stroke:#0f0f0f;stroke-width:0.28px;">28</text>
<text x="904.68" y="815" font-size="13" style="letter-spacing:0.082px;stroke:#0f0f0f;stroke-width:0.28px;">12:00</text>
<text x="983.14" y="815" font-size="13" style="letter-spacing:0.311px;stroke:#0f0f0f;stroke-width:0.28px;">29</text>
<text x="1043.17" y="815" font-size="13" style="letter-spacing:0.037px;stroke:#0f0f0f;stroke-width:0.28px;">12:00</text>
<text x="1121.96" y="815" font-size="13" style="letter-spacing:-0.493px;stroke:#0f0f0f;stroke-width:0.28px;">30</text>
<text x="1181.64" y="815" font-size="13" style="letter-spacing:0.075px;stroke:#0f0f0f;stroke-width:0.28px;">12:00</text>
</g>
<rect x="10" y="27" width="1266" height="797" fill="none" stroke="#f2f2f3" stroke-width="2" class="ce"/>
<rect x="10" y="512" width="1" height="21" fill="#089981" opacity="0.8" class="ce"/>
<text x="10.61" y="20.1" font-size="12.5" style="letter-spacing:0.065px;stroke:#0f0f0f;stroke-width:0.28px;">willemspork</text>
<text x="80.30" y="20.1" font-size="12.5" style="letter-spacing:0.237px;stroke:#0f0f0f;stroke-width:0.28px;">created</text>
<text x="127.95" y="20.1" font-size="12.5" style="letter-spacing:0.221px;stroke:#0f0f0f;stroke-width:0.28px;">with</text>
<text x="154.58" y="20.1" font-size="12.5" style="letter-spacing:-0.011px;stroke:#0f0f0f;stroke-width:0.28px;">TradingView.com,</text>
<text x="258.40" y="20.1" font-size="12.5" style="letter-spacing:-0.620px;stroke:#0f0f0f;stroke-width:0.28px;">Aug</text>
<text x="283.31" y="20.1" font-size="12.5" style="letter-spacing:-0.303px;stroke:#0f0f0f;stroke-width:0.28px;">29,</text>
<text x="305.00" y="20.1" font-size="12.5" style="letter-spacing:0.063px;stroke:#0f0f0f;stroke-width:0.28px;">2025</text>
<text x="337.80" y="20.1" font-size="12.5" style="letter-spacing:-0.302px;stroke:#0f0f0f;stroke-width:0.28px;">15:50</text>
<text x="372.00" y="20.1" font-size="12.5" style="letter-spacing:-0.031px;stroke:#0f0f0f;stroke-width:0.28px;">UTC+2</text>
<text x="17.57" y="47.1" font-size="12.5" style="letter-spacing:0.262px;stroke:#0f0f0f;stroke-width:0.28px;">Bitcoin</text>
<text x="59.75" y="47.1" font-size="12.5" style="stroke:#0f0f0f;stroke-width:0.28px;">/</text>
<text x="67.66" y="47.1" font-size="12.5" style="letter-spacing:-0.546px;stroke:#0f0f0f;stroke-width:0.28px;">U.S.</text>
<text x="93.69" y="47.1" font-size="12.5" style="letter-spacing:0.003px;stroke:#0f0f0f;stroke-width:0.28px;">Dollar</text>
<text x="129.60" y="47.1" font-size="12.5" style="stroke:#0f0f0f;stroke-width:0.28px;">·</text>
<text x="136.66" y="47.1" font-size="12.5" style="letter-spacing:-0.620px;stroke:#0f0f0f;stroke-width:0.28px;">1h</text>
<text x="153.19" y="47.1" font-size="12.5" style="stroke:#0f0f0f;stroke-width:0.28px;">·</text>
<text x="159.95" y="47.1" font-size="12.5" style="letter-spacing:-0.359px;stroke:#0f0f0f;stroke-width:0.28px;">BITSTAMP</text>
<text x="225.81" y="47.1" font-size="12.5" style="stroke:#0f0f0f;stroke-width:0.28px;">O</text>
<text x="236.14" y="47.1" font-size="12.5" style="letter-spacing:-0.253px;fill:#f23645;stroke:#f23645;stroke-width:0.28px;">110,739</text>
<text x="285.63" y="47.1" font-size="12.5" style="stroke:#0f0f0f;stroke-width:0.28px;">H</text>
<text x="294.51" y="47.1" font-size="12.5" style="letter-spacing:-0.316px;fill:#f23645;stroke:#f23645;stroke-width:0.28px;">110,796</text>
<text x="343.88" y="47.1" font-size="12.5" style="stroke:#0f0f0f;stroke-width:0.28px;">L</text>
<text x="351.46" y="47.1" font-size="12.5" style="letter-spacing:-0.347px;fill:#f23645;stroke:#f23645;stroke-width:0.28px;">109,147</text>
<text x="401.85" y="47.1" font-size="12.5" style="stroke:#0f0f0f;stroke-width:0.28px;">C</text>
<text x="410.19" y="47.1" font-size="12.5" style="letter-spacing:-0.070px;fill:#f23645;stroke:#f23645;stroke-width:0.28px;">109,387</text>
<text x="462.66" y="47.1" font-size="12.5" style="letter-spacing:-0.261px;fill:#f23645;stroke:#f23645;stroke-width:0.28px;">−1,352</text>
<text x="504.88" y="47.1" font-size="12.5" style="letter-spacing:-0.148px;fill:#f23645;stroke:#f23645;stroke-width:0.28px;">(−1.22%)</text>
<g fill="none" stroke="#8e1fab" stroke-width="1.35" stroke-linecap="butt" stroke-linejoin="bevel">
<path d="M1067.74 781.85 A9.45 9.45 0 0 1 1079.73 774.65"/>
<path d="M1085.97 780.72 A9.45 9.45 0 0 1 1069.40 789.40"/>
<path d="M1079.0 778.5 L1072.6 783.5 L1080.6 783.5 L1073.4 788.6" stroke-width="1.5"/>
</g>
<path d="M1066 781.7 Q1067.5 785.5 1071.3 787 Q1067.5 788.5 1066 792.3 Q1064.5 788.5 1060.7 787 Q1064.5 785.5 1066 781.7 Z" fill="#7c4dff"/>
<circle cx="1083.4" cy="776.5" r="2.6" fill="#f23645"/>
<g transform="translate(12,842.6) scale(0.843)" fill="#0f0f0f"><path d="M14 22H7V11H0V4h14v18zM28 22h-8l7.5-18h8L28 22z"/><circle cx="20.1" cy="7.5" r="3.5"/></g>
<text x="48.79" y="861" font-size="20.7" font-weight="bold" style="letter-spacing:-0.001px;">TradingView</text>
</svg>
</body></html>
